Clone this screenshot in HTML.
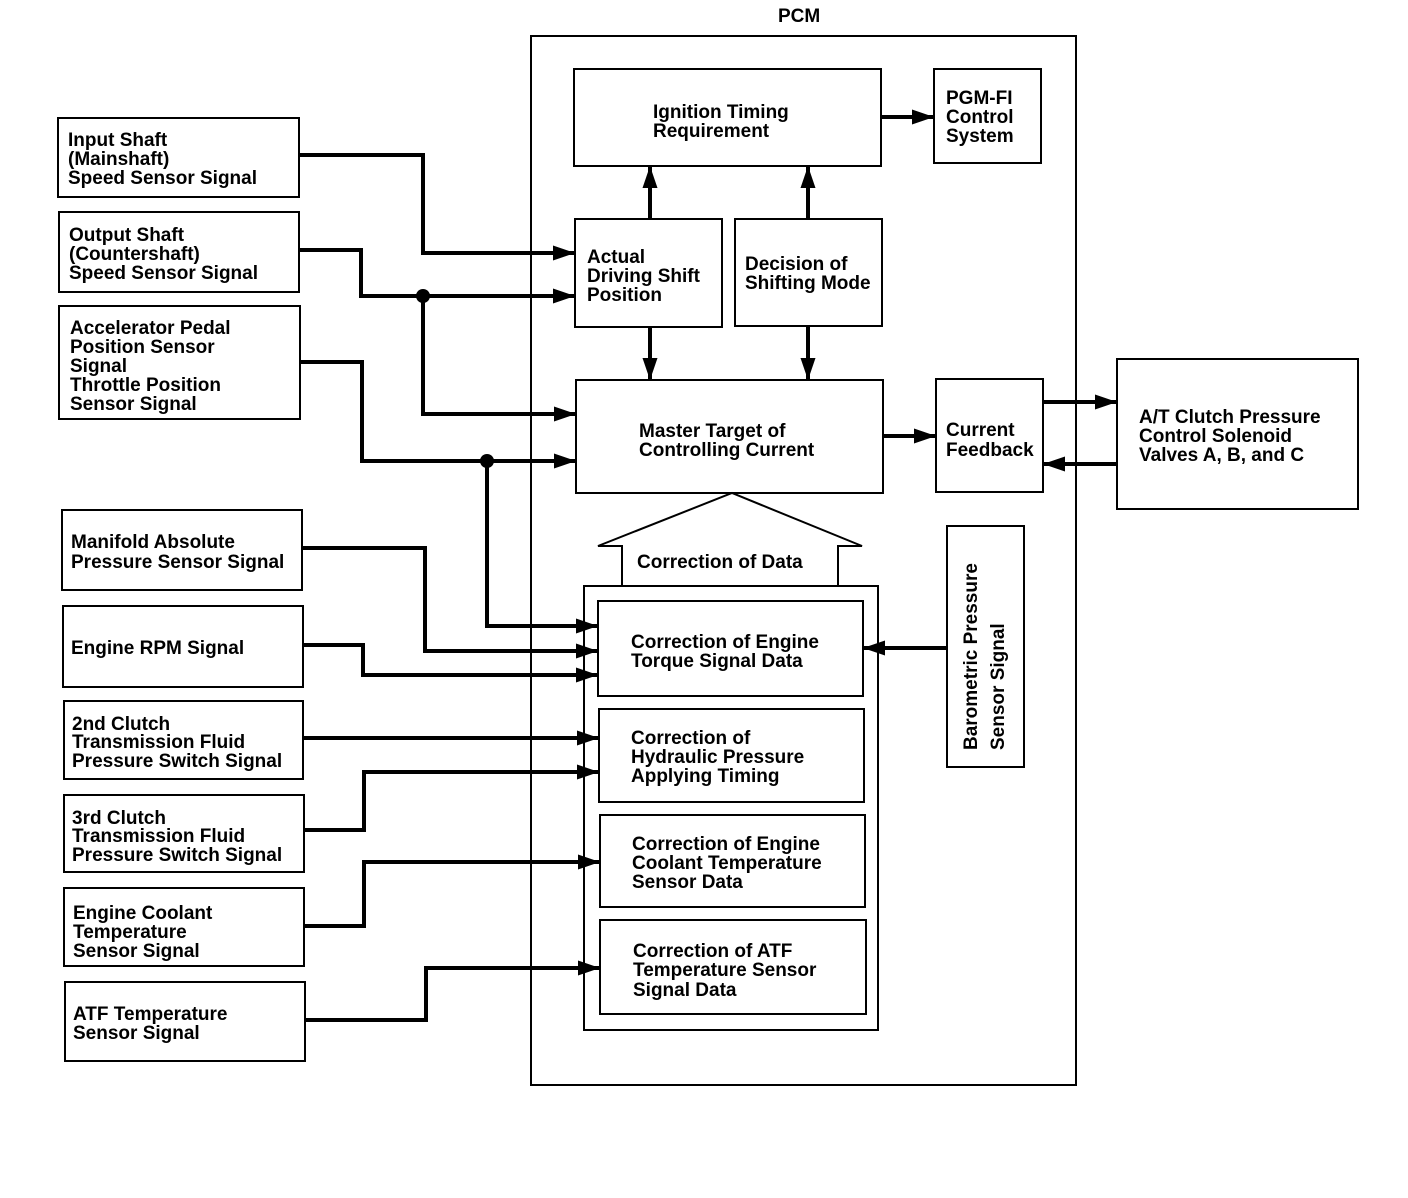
<!DOCTYPE html>
<html><head><meta charset="utf-8"><style>
html,body{margin:0;padding:0;background:#fff;}
svg{display:block;}
text{font-family:"Liberation Sans",sans-serif;font-weight:bold;font-size:19px;fill:#000;}
</style></head><body>
<svg width="1408" height="1198" viewBox="0 0 1408 1198" xmlns="http://www.w3.org/2000/svg">
<defs>
<marker id="a" viewBox="0 0 22 15" refX="22" refY="7.5" markerWidth="22" markerHeight="15" markerUnits="userSpaceOnUse" orient="auto">
<path d="M0,0 L22,7.5 L0,15 Z" fill="#000"/></marker>
</defs>
<g fill="none" stroke="#000" stroke-width="2">
<rect x="531" y="36" width="545" height="1049"/>
<rect x="58" y="118" width="241" height="79"/>
<rect x="59" y="212" width="240" height="80"/>
<rect x="59" y="306" width="241" height="113"/>
<rect x="62" y="510" width="240" height="80"/>
<rect x="63" y="606" width="240" height="81"/>
<rect x="64" y="701" width="239" height="78"/>
<rect x="64" y="795" width="240" height="77"/>
<rect x="64" y="888" width="240" height="78"/>
<rect x="65" y="982" width="240" height="79"/>
<rect x="574" y="69" width="307" height="97"/>
<rect x="934" y="69" width="107" height="94"/>
<rect x="575" y="219" width="147" height="108"/>
<rect x="735" y="219" width="147" height="107"/>
<rect x="576" y="380" width="307" height="113"/>
<rect x="936" y="379" width="107" height="113"/>
<rect x="1117" y="359" width="241" height="150"/>
<rect x="947" y="526" width="77" height="241"/>
<rect x="584" y="586" width="294" height="444"/>
<rect x="598" y="601" width="265" height="95"/>
<rect x="599" y="709" width="265" height="93"/>
<rect x="600" y="815" width="265" height="92"/>
<rect x="600" y="920" width="266" height="94"/>
<path d="M622,586 L622,546 L598,546 L732,493 L862,546 L838,546 L838,586"/>
</g>
<g fill="none" stroke="#000" stroke-width="4" marker-end="url(#a)">
<path d="M299,155 H423 V253 H575"/>
<path d="M299,250 H361 V296 H575"/>
<path d="M423,296 V414 H576"/>
<path d="M300,362 H362 V461 H576"/>
<path d="M487,461 V626 H598"/>
<path d="M302,548 H425 V651 H598"/>
<path d="M303,645 H363 V675 H598"/>
<path d="M303,738 H599"/>
<path d="M304,830 H364 V772 H599"/>
<path d="M304,926 H364 V862 H600"/>
<path d="M305,1020 H426 V968 H600"/>
<path d="M650,219 V166"/>
<path d="M808,219 V166"/>
<path d="M650,327 V380"/>
<path d="M808,326 V380"/>
<path d="M881,117 H934"/>
<path d="M883,436 H936"/>
<path d="M1043,402 H1117"/>
<path d="M1117,464 H1043"/>
<path d="M947,648 H863"/>
</g>
<circle cx="423" cy="296" r="7" fill="#000"/>
<circle cx="487" cy="461" r="7" fill="#000"/>
<text x="778" y="22">PCM</text>
<text x="68" y="146">Input Shaft</text><text x="68" y="165">(Mainshaft)</text><text x="68" y="184">Speed Sensor Signal</text>
<text x="69" y="241">Output Shaft</text><text x="69" y="260">(Countershaft)</text><text x="69" y="279">Speed Sensor Signal</text>
<text x="70" y="334">Accelerator Pedal</text><text x="70" y="353">Position Sensor</text><text x="70" y="372">Signal</text><text x="70" y="391">Throttle Position</text><text x="70" y="410">Sensor Signal</text>
<text x="71" y="548">Manifold Absolute</text><text x="71" y="568">Pressure Sensor Signal</text>
<text x="71" y="654">Engine RPM Signal</text>
<text x="72" y="730">2nd Clutch</text><text x="72" y="748">Transmission Fluid</text><text x="72" y="767">Pressure Switch Signal</text>
<text x="72" y="824">3rd Clutch</text><text x="72" y="842">Transmission Fluid</text><text x="72" y="861">Pressure Switch Signal</text>
<text x="73" y="919">Engine Coolant</text><text x="73" y="938">Temperature</text><text x="73" y="957">Sensor Signal</text>
<text x="73" y="1020">ATF Temperature</text><text x="73" y="1039">Sensor Signal</text>
<text x="653" y="118">Ignition Timing</text><text x="653" y="137">Requirement</text>
<text x="946" y="104">PGM-FI</text><text x="946" y="123">Control</text><text x="946" y="142">System</text>
<text x="587" y="263">Actual</text><text x="587" y="282">Driving Shift</text><text x="587" y="301">Position</text>
<text x="745" y="270">Decision of</text><text x="745" y="289">Shifting Mode</text>
<text x="639" y="437">Master Target of</text><text x="639" y="456">Controlling Current</text>
<text x="946" y="436">Current</text><text x="946" y="456">Feedback</text>
<text x="1139" y="423">A/T Clutch Pressure</text><text x="1139" y="442">Control Solenoid</text><text x="1139" y="461">Valves A, B, and C</text>
<text x="637" y="568">Correction of Data</text>
<text x="631" y="648">Correction of Engine</text><text x="631" y="667">Torque Signal Data</text>
<text x="631" y="744">Correction of</text><text x="631" y="763">Hydraulic Pressure</text><text x="631" y="782">Applying Timing</text>
<text x="632" y="850">Correction of Engine</text><text x="632" y="869">Coolant Temperature</text><text x="632" y="888">Sensor Data</text>
<text x="633" y="957">Correction of ATF</text><text x="633" y="976">Temperature Sensor</text><text x="633" y="996">Signal Data</text>
<text transform="translate(977,750) rotate(-90)">Barometric Pressure</text>
<text transform="translate(1004,750) rotate(-90)">Sensor Signal</text>
</svg>
</body></html>
